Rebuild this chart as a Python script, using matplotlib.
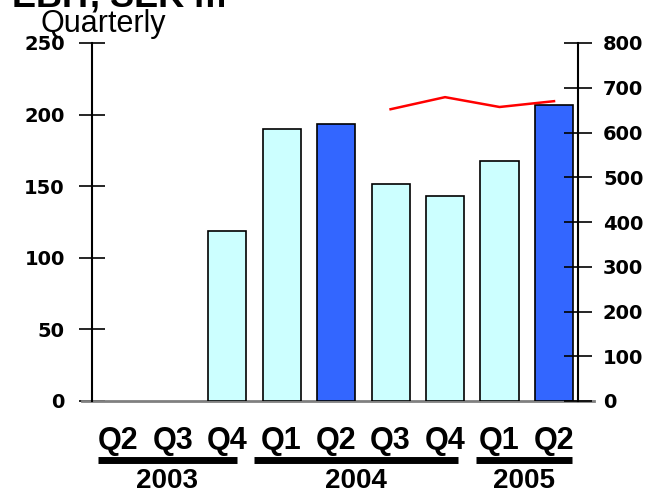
import matplotlib
matplotlib.use("Agg")
import matplotlib.pyplot as plt
from matplotlib.lines import Line2D

quarters = ["Q2", "Q3", "Q4", "Q1", "Q2", "Q3", "Q4", "Q1", "Q2"]
years = ["2003", "2004", "2005"]
year_groups = [(0, 2), (3, 6), (7, 8)]
ebit = [0, 0, 118.5, 190, 193.5, 151.5, 143, 167.5, 207]
bar_colors = ["#CCFFFF", "#CCFFFF", "#CCFFFF", "#CCFFFF", "#3366FF",
              "#CCFFFF", "#CCFFFF", "#CCFFFF", "#3366FF"]
rolling = [None, None, None, None, None, 652, 679, 657, 670]
left_ticks = [0, 50, 100, 150, 200, 250]
right_ticks = [0, 100, 200, 300, 400, 500, 600, 700, 800]

# layout: extents of year underline bars relative to first/last category
underline_pad = [(-0.37, 0.18), (-0.5, 0.24), (-0.44, 0.33)]

W, H = 655, 496
fig = plt.figure(figsize=(6.55, 4.96), dpi=100)
ax = fig.add_axes([92 / W, 1 - 401 / H, (578 - 92) / W, (401 - 43) / H])

x = list(range(len(quarters)))
lws = [1.2 if v > 0 else 0 for v in ebit]
ax.bar(x, ebit, width=0.70, color=bar_colors, edgecolor="black", linewidth=lws, zorder=3)
ax.set_xlim(-0.48, 8.44)
ax.set_ylim(0, 250)
ax.set_yticks(left_ticks)
ax.set_yticklabels([str(t) for t in left_ticks], fontfamily="DejaVu Sans",
                   fontweight="bold", fontsize=14)
ax.tick_params(axis="y", direction="inout", length=19, width=1.2, pad=10)

ax.set_xticks(x)
ax.set_xticklabels(quarters, fontfamily="Liberation Sans", fontweight="bold", fontsize=22)
ax.tick_params(axis="x", length=0, pad=18)

for s in ["top", "right", "bottom"]:
    ax.spines[s].set_visible(False)
ax.spines["left"].set_linewidth(1.5)

# baseline
ax.add_line(Line2D([-0.021, 1.033], [0, 0], transform=ax.transAxes, color="#808080",
                   linewidth=2, clip_on=False, zorder=2))

ax2 = ax.twinx()
ax2.set_ylim(0, 800)
ax2.set_yticks(right_ticks)
ax2.set_yticklabels([str(t) for t in right_ticks], fontfamily="DejaVu Sans",
                    fontweight="bold", fontsize=14)
ax2.tick_params(axis="y", direction="inout", length=20, width=1.2, pad=8)
for s in ["top", "left", "bottom"]:
    ax2.spines[s].set_visible(False)
ax2.spines["right"].set_linewidth(1.5)

lx = [i for i, v in zip(x, rolling) if v is not None]
ly = [v for v in rolling if v is not None]
ax2.plot(lx, ly, color="red", linewidth=1.8, zorder=4)

# year underline bars and labels
trans = ax.get_xaxis_transform()
ybar = -(460 - 401) / (401 - 43)
yyear = -(481 - 401) / (401 - 43)
for (a, b), yr, (pl, pr) in zip(year_groups, years, underline_pad):
    ax.add_line(Line2D([a + pl, b + pr], [ybar, ybar], transform=trans, color="black",
                       linewidth=5, clip_on=False, solid_capstyle="butt"))
    ax.text((a + pl + b + pr) / 2, yyear, yr, transform=trans, ha="center", va="center",
            fontfamily="Liberation Sans", fontweight="bold", fontsize=20)

fig.text(40 / W, 1 - 32 / H, "Quarterly", fontfamily="Liberation Sans", fontsize=22,
         ha="left", va="baseline")
fig.text(12 / W, 1 - 7 / H, "EBIT, SEK m", fontfamily="Liberation Sans", fontweight="bold",
         fontsize=26, ha="left", va="baseline")

fig.savefig("out.png", dpi=100)
